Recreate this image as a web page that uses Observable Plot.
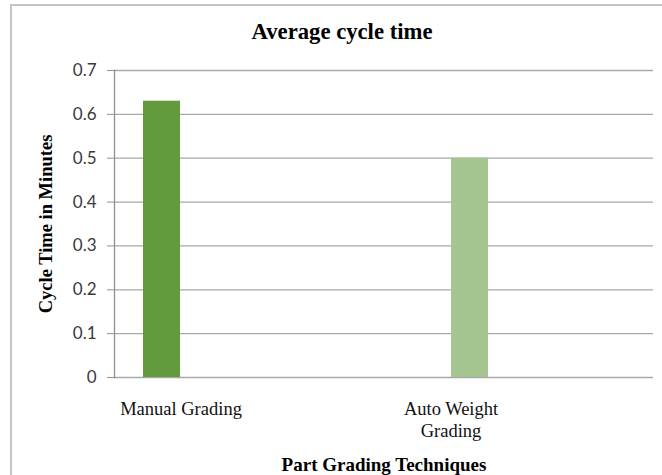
<!DOCTYPE html>
<html>
<head>
<meta charset="utf-8">
<script src="https://cdn.jsdelivr.net/npm/d3@7"></script>
<script src="https://cdn.jsdelivr.net/npm/@observablehq/plot@0.6"></script>
<style>
  html, body { margin: 0; padding: 0; background: #ffffff; }
  #wrap { position: relative; width: 662px; height: 475px; overflow: hidden; background: #ffffff; }
  #border { position: absolute; left: 10px; top: 4px; width: 700px; height: 520px;
            border-left: 2px solid #c4c4c4; border-top: 2px solid #c4c4c4; pointer-events: none; }
  #title { height: 58px; position: relative; }
  #title span { position: absolute; left: 0; width: 684px; text-align: center; top: 19px;
                font-family: "Liberation Serif", serif; font-weight: bold; font-size: 22.7px; color: #000; }
</style>
</head>
<body>
<div id="wrap">
  <div id="title"><span>Average cycle time</span></div>
  <div id="chart"></div>
  <div id="border"></div>
</div>
<script>
const categories = ["Manual Grading", "Auto Weight Grading"];
const values = [0.63, 0.50];
const axisLabels = ["Manual Grading", "Auto Weight\nGrading"];
const barColors = ["#639a3d", "#a4c490"];
const yTicks = [0, 0.1, 0.2, 0.3, 0.4, 0.5, 0.6, 0.7];
const yTitle = "Cycle Time in Minutes";
const xTitle = "Part Grading Techniques";

const data = categories.map((c, i) => ({category: c, value: values[i], color: barColors[i]}));

const serif = "Liberation Serif, serif";

const plot = Plot.plot({
  width: 662,
  height: 417,
  marginTop: 12,
  marginBottom: 98,
  marginLeft: 114,
  marginRight: 9,
  style: {background: "transparent", overflow: "visible"},
  x: {domain: categories, paddingInner: 0.88, paddingOuter: 0.315, align: 0.152, axis: null},
  y: {domain: [0, 0.7], axis: null},
  marks: [
    Plot.gridY(yTicks, {stroke: "#a8a8a8", strokeOpacity: 1, strokeWidth: 1.3}),
    Plot.barY(data, {x: "category", y: "value", fill: "color"}),
    Plot.frame({anchor: "left", stroke: "#8f8f8f", strokeWidth: 1.3}),
    Plot.axisY(yTicks, {tickSize: 7, tickPadding: 11, stroke: "#8f8f8f", fill: "#3a3a3a",
      fontSize: 17, fontFamily: "Lato, sans-serif", tickFormat: d => String(d), label: null}),
    Plot.text([axisLabels[0]], {x: () => categories[0], text: d => d, frameAnchor: "bottom",
      lineAnchor: "top", dy: 22, dx: 19, fontSize: 18.5, fontFamily: serif, fill: "#111", lineHeight: 1.2}),
    Plot.text([axisLabels[1]], {x: () => categories[1], text: d => d, frameAnchor: "bottom",
      lineAnchor: "top", dy: 22, dx: -19, fontSize: 18.5, fontFamily: serif, fill: "#111", lineHeight: 1.2}),
    Plot.text([xTitle], {text: d => d, frameAnchor: "bottom", lineAnchor: "bottom", dy: 93,
      fontSize: 19, fontWeight: "bold", fontFamily: serif, fill: "#000"}),
    Plot.text([yTitle], {text: d => d, frameAnchor: "left", textAnchor: "middle", rotate: -90, dx: -68, dy: 0,
      fontSize: 18.5, fontWeight: "bold", fontFamily: serif, fill: "#000"})
  ]
});
document.getElementById("chart").appendChild(plot);
</script>
</body>
</html>
